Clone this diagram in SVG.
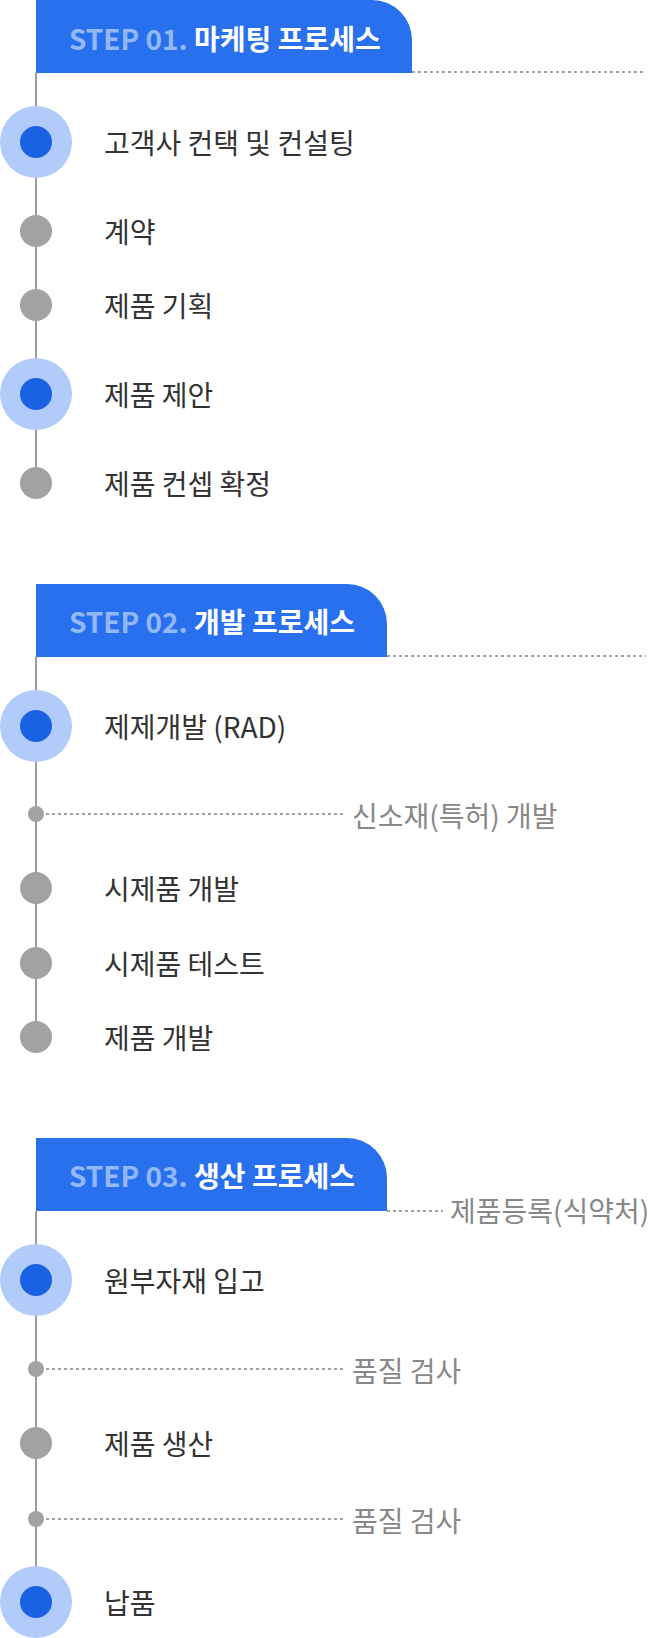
<svg xmlns="http://www.w3.org/2000/svg" width="652" height="1638" viewBox="0 0 652 1638">
<style>
text{font-family:"Noto Sans CJK KR","Noto Sans",sans-serif}
.hd{fill:#2970ef}
.ht{font-size:28px;font-weight:700;fill:#ffffff}
.hs{fill:#93b8f7}
.line{stroke:#9c9c9c;stroke-width:2;fill:none}
.dot{stroke:#a3a3a3;stroke-width:2;stroke-dasharray:3 3;fill:none}
.big{fill:#b1cbfa}
.inner{fill:#1b62e2}
.gray{fill:#a1a3a2}
.lbl{font-size:28px;fill:#333333}
.side{font-size:28px;fill:#888888}
</style>
<rect width="652" height="1638" fill="#ffffff"/>
<g id="connectors">
<line class="line" x1="36" y1="73" x2="36" y2="483"/>
<line class="line" x1="36" y1="657" x2="36" y2="1037"/>
<line class="line" x1="36" y1="1211" x2="36" y2="1602"/>
<line class="dot" x1="412" y1="72" x2="646" y2="72"/>
<line class="dot" x1="387" y1="656" x2="646" y2="656"/>
<line class="dot" x1="387" y1="1211" x2="443" y2="1211"/>
<line class="dot" x1="46" y1="814" x2="343" y2="814"/>
<line class="dot" x1="46" y1="1369" x2="343" y2="1369"/>
<line class="dot" x1="46" y1="1519" x2="343" y2="1519"/>
</g>
<g id="step1-header">
<path class="hd" d="M36 0H372A40 40 0 0 1 412 40V73H36Z"/>
<text class="ht" x="69" y="50"><tspan class="hs">STEP 01.</tspan> 마케팅 프로세스</text>
</g>
<g id="s1-n1"><circle class="big" cx="36" cy="142" r="36"/><circle class="inner" cx="36" cy="142" r="16"/><text class="lbl" x="104" y="154">고객사 컨택 및 컨설팅</text></g>
<g id="s1-n2"><circle class="gray" cx="36" cy="231" r="16"/><text class="lbl" x="104" y="243">계약</text></g>
<g id="s1-n3"><circle class="gray" cx="36" cy="305" r="16"/><text class="lbl" x="104" y="317">제품 기획</text></g>
<g id="s1-n4"><circle class="big" cx="36" cy="394" r="36"/><circle class="inner" cx="36" cy="394" r="16"/><text class="lbl" x="104" y="406">제품 제안</text></g>
<g id="s1-n5"><circle class="gray" cx="36" cy="483" r="16"/><text class="lbl" x="104" y="495">제품 컨셉 확정</text></g>
<g id="step2-header">
<path class="hd" d="M36 584H347A40 40 0 0 1 387 624V657H36Z"/>
<text class="ht" x="69" y="633"><tspan class="hs">STEP 02.</tspan> 개발 프로세스</text>
</g>
<g id="s2-n1"><circle class="big" cx="36" cy="726" r="36"/><circle class="inner" cx="36" cy="726" r="16"/><text class="lbl" x="104" y="738">제제개발 (RAD)</text></g>
<g id="s2-n2"><circle class="gray" cx="36" cy="814" r="8"/><text class="side" x="352" y="827">신소재(특허) 개발</text></g>
<g id="s2-n3"><circle class="gray" cx="36" cy="888" r="16"/><text class="lbl" x="104" y="900">시제품 개발</text></g>
<g id="s2-n4"><circle class="gray" cx="36" cy="963" r="16"/><text class="lbl" x="104" y="975">시제품 테스트</text></g>
<g id="s2-n5"><circle class="gray" cx="36" cy="1037" r="16"/><text class="lbl" x="104" y="1049">제품 개발</text></g>
<g id="step3-header">
<path class="hd" d="M36 1138H347A40 40 0 0 1 387 1178V1211H36Z"/>
<text class="ht" x="69" y="1187"><tspan class="hs">STEP 03.</tspan> 생산 프로세스</text>
<text class="side" x="450" y="1222">제품등록(식약처)</text>
</g>
<g id="s3-n1"><circle class="big" cx="36" cy="1280" r="36"/><circle class="inner" cx="36" cy="1280" r="16"/><text class="lbl" x="104" y="1292">원부자재 입고</text></g>
<g id="s3-n2"><circle class="gray" cx="36" cy="1369" r="8"/><text class="side" x="352" y="1382">품질 검사</text></g>
<g id="s3-n3"><circle class="gray" cx="36" cy="1443" r="16"/><text class="lbl" x="104" y="1455">제품 생산</text></g>
<g id="s3-n4"><circle class="gray" cx="36" cy="1519" r="8"/><text class="side" x="352" y="1532">품질 검사</text></g>
<g id="s3-n5"><circle class="big" cx="36" cy="1602" r="36"/><circle class="inner" cx="36" cy="1602" r="16"/><text class="lbl" x="104" y="1614">납품</text></g>
</svg>
